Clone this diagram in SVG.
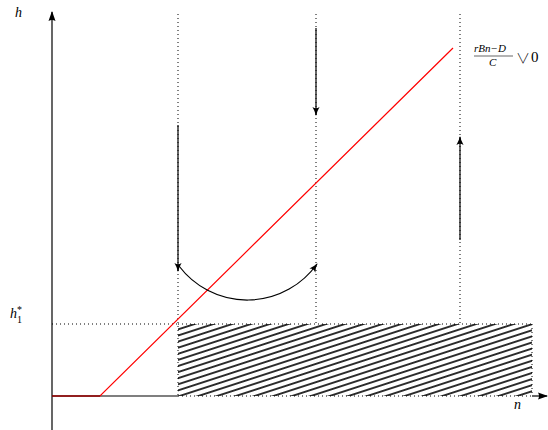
<svg xmlns="http://www.w3.org/2000/svg" width="548" height="430" viewBox="0 0 548 430">
<style>
.ax{stroke:#000;stroke-width:1.2;fill:none}
.dot{stroke:#000;stroke-width:1;stroke-dasharray:1 3;fill:none}
.arr{stroke:#000;stroke-width:1.2;fill:none;marker-end:url(#ah)}
.red{stroke:#ff0000;stroke-width:1.2;fill:none}
.lbl{font-family:"Liberation Serif",serif;font-style:italic;fill:#000}
.rm{font-family:"Liberation Serif",serif;fill:#000}
</style>
<defs>
<marker id="ah" viewBox="0 0 10 10" refX="9" refY="5" markerWidth="9" markerHeight="9" markerUnits="userSpaceOnUse" orient="auto">
<path d="M0,1 Q5,4 10,5 Q5,6 0,9 Q3,5 0,1 Z" fill="#000"/>
</marker>
<marker id="axh" viewBox="0 0 10 10" refX="9" refY="5" markerWidth="10" markerHeight="10" markerUnits="userSpaceOnUse" orient="auto">
<path d="M0,1.5 L10,5 L0,8.5 Q2,5 0,1.5 Z" fill="#000"/>
</marker>
<pattern id="hatch" patternUnits="userSpaceOnUse" width="8" height="5.8" patternTransform="rotate(-18)">
<line x1="0" y1="2.9" x2="8" y2="2.9" stroke="#000" stroke-width="1.6"/>
</pattern>
</defs>

<g id="hatched-region">
<rect x="178" y="324" width="354" height="72" fill="url(#hatch)"/>
<line class="dot" x1="178" y1="324" x2="532" y2="324"/>
<line class="dot" x1="532" y1="324" x2="532" y2="396"/>
</g>

<g id="axes">
<line class="ax" x1="52" y1="430" x2="52" y2="12" style="marker-end:url(#axh)"/>
<line class="ax" x1="52" y1="396" x2="178" y2="396"/>
<line class="dot" x1="178" y1="396" x2="532" y2="396"/>
<line class="ax" x1="532" y1="396" x2="547" y2="396" style="marker-end:url(#axh)" stroke-width="0.8"/>
<text class="lbl" x="15" y="17" font-size="14">h</text>
<text class="lbl" x="514" y="409" font-size="14">n</text>
<text class="lbl" x="10" y="318" font-size="14">h<tspan font-style="normal" font-size="10" dy="-5">*</tspan><tspan font-style="normal" font-size="10" dx="-5" dy="10">1</tspan></text>
</g>

<g id="guides">
<line class="dot" x1="178" y1="14" x2="178" y2="396"/>
<line class="dot" x1="316" y1="14" x2="316" y2="324"/>
<line class="dot" x1="460" y1="14" x2="460" y2="324"/>
<line class="dot" x1="52" y1="324" x2="178" y2="324"/>
</g>

<g id="red-line">
<polyline class="red" points="52,396 100,396 453,48"/>
<line x1="52" y1="396" x2="100" y2="396" stroke="#600" stroke-width="1.2"/>
</g>

<g id="label-top">
<text class="lbl" x="474" y="52" font-size="11">rBn−D</text>
<line x1="474" y1="56" x2="513" y2="56" stroke="#000" stroke-width="0.6"/>
<text class="lbl" x="489" y="66" font-size="11">C</text>
<text x="516" y="63" font-size="14" style="font-family:'Noto Sans CJK JP',sans-serif;font-weight:300">∨</text>
<text class="rm" x="531" y="62" font-size="15">0</text>
</g>

<g id="connectors">
<line class="arr" x1="178" y1="125" x2="178" y2="271"/>
<line class="arr" x1="316" y1="28" x2="316" y2="115"/>
<line class="arr" x1="460" y1="240" x2="460" y2="137"/>
<path class="arr" d="M179,266 A85.5,85.5 0 0 0 317,264"/>
</g>
</svg>
